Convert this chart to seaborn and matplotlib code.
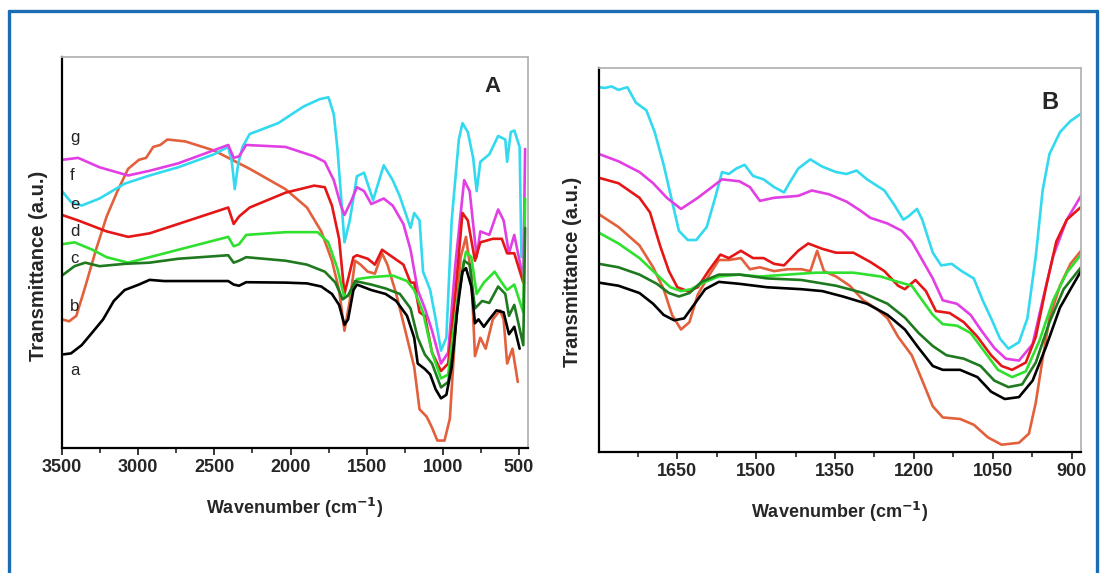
import numpy as np
import pandas as pd
import matplotlib
matplotlib.use("Agg")
import matplotlib.pyplot as plt
from matplotlib.lines import Line2D
from matplotlib.ticker import MultipleLocator
import seaborn as sns

# ---------------- Panel A data (wavenumber, transmittance a.u.) ----------------
A_wn_a = [3500, 3441, 3371, 3300, 3230, 3160, 3089, 2995, 2925, 2831, 2620, 2409, 2373, 2338, 2291, 2033, 1892, 1798, 1728, 1681, 1646, 1622, 1587, 1564, 1470, 1376, 1306, 1235, 1188, 1165, 1118, 1083, 1047, 1012, 977, 942, 907, 871, 848, 813, 789, 766, 731, 695, 648, 601, 566, 531, 496]
A_a = [23.9, 24.2, 26.3, 29.6, 32.9, 37.6, 40.4, 41.8, 43.0, 42.7, 42.7, 42.7, 41.8, 41.5, 42.4, 42.3, 42.1, 41.3, 39.4, 36.6, 31.5, 32.9, 40.4, 41.8, 40.4, 39.4, 37.6, 33.8, 28.2, 21.6, 20.2, 18.8, 15.0, 12.7, 13.6, 20.7, 34.7, 45.1, 46.0, 41.3, 31.9, 32.9, 31.0, 32.9, 35.2, 34.7, 29.1, 31.0, 25.4]

A_wn_b = [3500, 3453, 3406, 3347, 3277, 3207, 3136, 3066, 2995, 2948, 2901, 2855, 2808, 2690, 2503, 2268, 2033, 1892, 1798, 1728, 1681, 1646, 1611, 1576, 1540, 1493, 1446, 1399, 1364, 1306, 1235, 1188, 1153, 1106, 1071, 1036, 989, 954, 918, 883, 848, 813, 789, 754, 719, 672, 625, 601, 578, 543, 508]
A_b = [32.9, 32.4, 33.8, 41.3, 50.7, 59.2, 65.7, 71.4, 73.7, 74.2, 77.0, 77.5, 78.9, 78.4, 76.1, 71.4, 66.2, 61.5, 55.4, 47.9, 40.4, 30.0, 37.6, 47.9, 46.9, 45.1, 44.6, 49.8, 46.9, 39.4, 28.2, 20.7, 9.9, 8.0, 5.2, 1.9, 1.9, 7.5, 30.0, 48.8, 54.0, 44.1, 23.5, 28.2, 25.4, 32.9, 35.2, 32.9, 21.6, 25.4, 16.9]

A_wn_c = [3500, 3418, 3347, 3254, 3089, 2925, 2737, 2409, 2373, 2338, 2291, 2033, 1892, 1775, 1705, 1658, 1622, 1576, 1470, 1376, 1282, 1212, 1165, 1118, 1071, 1012, 965, 930, 895, 860, 824, 789, 742, 695, 637, 590, 566, 531, 472, 460]
A_c = [44.1, 46.5, 47.4, 46.5, 47.1, 47.4, 48.4, 49.3, 47.4, 47.9, 48.8, 47.9, 46.9, 45.1, 42.3, 38.0, 39.0, 42.7, 41.8, 40.8, 39.4, 35.7, 28.2, 23.9, 21.6, 15.5, 16.9, 25.4, 39.4, 47.9, 46.9, 35.7, 37.6, 37.1, 41.3, 39.4, 33.8, 36.6, 26.3, 56.3]

A_wn_d = [3500, 3418, 3300, 3207, 3066, 2925, 2737, 2409, 2373, 2338, 2291, 2033, 1822, 1752, 1693, 1646, 1611, 1564, 1470, 1329, 1235, 1188, 1130, 1071, 1012, 965, 930, 883, 848, 813, 778, 731, 660, 613, 578, 531, 472, 460]
A_d = [52.1, 52.6, 50.7, 48.8, 47.4, 48.8, 50.7, 54.0, 51.6, 52.1, 54.5, 55.2, 55.2, 52.6, 46.0, 38.5, 39.4, 43.2, 43.7, 44.1, 42.7, 40.4, 34.7, 24.4, 17.8, 18.8, 30.0, 43.2, 50.2, 48.8, 39.4, 42.3, 45.1, 42.3, 40.4, 41.8, 34.7, 63.8]

A_wn_e = [3500, 3394, 3207, 3066, 2925, 2737, 2409, 2373, 2338, 2268, 2033, 1845, 1775, 1728, 1681, 1646, 1587, 1564, 1493, 1446, 1399, 1329, 1259, 1212, 1188, 1153, 1118, 1071, 1012, 965, 918, 871, 836, 789, 754, 672, 613, 578, 531, 472]
A_e = [59.6, 58.2, 55.4, 54.0, 54.9, 57.3, 61.5, 57.3, 59.2, 61.5, 65.3, 67.1, 66.7, 62.0, 53.5, 39.4, 48.8, 49.3, 48.4, 46.9, 50.7, 48.8, 46.9, 42.3, 42.3, 34.7, 33.8, 24.4, 19.7, 21.6, 39.4, 60.1, 58.2, 47.9, 52.6, 53.5, 53.5, 49.8, 49.8, 42.3]

A_wn_f = [3500, 3394, 3254, 3066, 2925, 2737, 2409, 2373, 2338, 2291, 2033, 1845, 1775, 1716, 1669, 1646, 1599, 1564, 1517, 1470, 1388, 1329, 1259, 1212, 1165, 1118, 1071, 1012, 965, 918, 860, 824, 778, 754, 695, 637, 601, 566, 531, 472, 460]
A_f = [73.7, 74.2, 71.8, 69.7, 70.9, 72.8, 77.5, 74.2, 74.6, 77.5, 77.0, 74.6, 73.2, 68.5, 62.0, 59.6, 63.4, 66.7, 65.7, 62.4, 63.8, 62.0, 57.3, 50.7, 40.4, 35.7, 30.0, 21.6, 24.4, 46.9, 68.5, 65.7, 48.8, 55.4, 54.5, 61.0, 58.2, 49.8, 54.5, 43.2, 76.5]

A_wn_g = [3500, 3441, 3371, 3254, 3089, 2925, 2737, 2503, 2409, 2385, 2366, 2343, 2315, 2268, 2080, 1916, 1810, 1751, 1716, 1693, 1669, 1646, 1611, 1564, 1517, 1458, 1388, 1329, 1282, 1212, 1188, 1153, 1130, 1083, 1047, 1012, 977, 942, 895, 871, 836, 801, 778, 754, 695, 637, 590, 578, 554, 531, 496, 484]
A_g = [65.7, 62.9, 62.0, 63.8, 67.6, 69.7, 71.8, 75.1, 77.0, 73.2, 66.2, 72.8, 77.0, 80.3, 83.1, 87.3, 89.2, 89.7, 85.4, 77.0, 64.8, 52.6, 58.2, 69.5, 70.4, 63.4, 72.3, 68.5, 64.3, 56.3, 60.1, 58.2, 45.1, 40.4, 32.9, 24.9, 28.2, 58.2, 78.9, 83.1, 80.8, 74.2, 65.7, 73.2, 75.1, 79.8, 78.9, 73.2, 80.8, 81.2, 77.0, 48.8]

# ---------------- Panel B data ----------------
B_wn_a = [1799, 1762, 1722, 1696, 1676, 1656, 1637, 1617, 1597, 1571, 1532, 1479, 1414, 1374, 1335, 1289, 1250, 1217, 1191, 1164, 1145, 1112, 1079, 1053, 1027, 1000, 974, 948, 922, 902, 882]
B_a = [44.1, 43.3, 41.4, 38.6, 35.7, 34.3, 34.8, 38.6, 42.4, 44.3, 43.8, 42.9, 42.4, 41.9, 40.5, 38.6, 35.7, 31.9, 27.1, 22.4, 21.4, 21.4, 19.5, 15.7, 13.8, 14.3, 18.6, 27.6, 37.6, 42.4, 47.1]

B_wn_b = [1799, 1762, 1722, 1696, 1676, 1660, 1643, 1627, 1611, 1591, 1571, 1552, 1529, 1512, 1493, 1466, 1440, 1414, 1397, 1384, 1371, 1348, 1322, 1296, 1269, 1250, 1230, 1204, 1184, 1164, 1145, 1112, 1086, 1059, 1033, 1000, 981, 968, 955, 942, 922, 902, 882]
B_b = [61.9, 58.6, 53.8, 48.1, 42.4, 35.7, 31.9, 33.8, 41.0, 45.7, 50.0, 50.0, 50.5, 47.6, 48.1, 47.1, 47.6, 47.6, 47.1, 52.4, 47.1, 45.7, 43.3, 39.5, 37.1, 34.8, 30.0, 25.2, 18.6, 11.9, 9.0, 8.6, 7.1, 3.8, 1.9, 2.4, 4.8, 12.9, 24.3, 34.8, 43.3, 49.0, 52.4]

B_wn_c = [1799, 1762, 1722, 1689, 1666, 1647, 1627, 1604, 1571, 1532, 1479, 1414, 1348, 1296, 1250, 1217, 1191, 1164, 1138, 1105, 1073, 1047, 1020, 994, 968, 942, 915, 882]
B_c = [49.0, 48.1, 46.2, 43.8, 41.4, 40.5, 41.4, 44.3, 46.2, 46.2, 45.2, 44.8, 43.3, 41.4, 38.6, 35.0, 31.0, 27.6, 25.2, 24.3, 22.4, 18.6, 16.9, 17.6, 23.3, 33.8, 42.4, 48.1]

B_wn_d = [1799, 1762, 1722, 1689, 1663, 1643, 1624, 1597, 1571, 1532, 1493, 1440, 1387, 1315, 1263, 1230, 1204, 1184, 1164, 1145, 1118, 1092, 1066, 1040, 1013, 987, 961, 935, 909, 882]
B_d = [57.1, 54.3, 50.5, 46.2, 42.9, 41.9, 42.4, 44.3, 45.7, 46.2, 45.7, 46.2, 46.7, 46.7, 45.7, 44.3, 43.3, 39.5, 35.7, 33.3, 32.9, 31.0, 26.2, 21.4, 19.5, 21.0, 29.0, 39.5, 46.7, 51.4]

B_wn_e = [1799, 1762, 1722, 1702, 1683, 1666, 1650, 1630, 1611, 1591, 1568, 1552, 1529, 1506, 1486, 1466, 1447, 1420, 1401, 1374, 1348, 1315, 1283, 1256, 1230, 1217, 1197, 1177, 1158, 1132, 1105, 1079, 1053, 1033, 1013, 987, 968, 948, 929, 909, 882]
B_e = [71.4, 70.0, 66.2, 62.4, 53.8, 47.1, 42.9, 41.9, 42.9, 47.1, 51.4, 50.5, 52.4, 50.5, 50.5, 49.0, 48.6, 52.4, 54.3, 52.9, 51.9, 51.9, 49.5, 47.1, 43.3, 42.4, 44.8, 41.9, 36.7, 36.2, 33.8, 30.0, 25.2, 22.4, 21.4, 23.3, 30.0, 43.3, 54.8, 60.5, 63.8]

B_wn_f = [1799, 1762, 1722, 1696, 1670, 1643, 1611, 1584, 1565, 1532, 1512, 1493, 1466, 1420, 1394, 1361, 1328, 1302, 1283, 1250, 1223, 1204, 1184, 1164, 1145, 1118, 1092, 1073, 1047, 1025, 1000, 974, 955, 935, 909, 882]
B_f = [77.6, 75.7, 72.9, 70.0, 66.2, 63.3, 66.2, 69.0, 71.0, 70.5, 69.0, 65.4, 66.2, 66.7, 68.1, 67.1, 65.2, 62.9, 61.0, 59.5, 57.6, 54.8, 50.0, 45.2, 39.5, 38.6, 35.7, 31.9, 27.1, 24.3, 23.8, 28.1, 39.5, 51.0, 60.5, 66.7]

B_wn_g = [1799, 1788, 1775, 1762, 1745, 1729, 1709, 1693, 1676, 1663, 1647, 1630, 1614, 1594, 1578, 1565, 1552, 1538, 1522, 1506, 1486, 1466, 1447, 1437, 1420, 1397, 1374, 1348, 1328, 1309, 1289, 1256, 1237, 1220, 1210, 1194, 1184, 1164, 1148, 1128, 1109, 1086, 1069, 1053, 1036, 1020, 1000, 984, 968, 955, 942, 922, 902, 882]
B_g = [95.0, 94.8, 95.2, 94.3, 95.0, 91.0, 89.0, 83.3, 74.8, 67.1, 57.6, 55.2, 55.2, 58.6, 66.2, 72.9, 72.4, 73.8, 74.8, 71.9, 71.0, 69.0, 67.6, 70.0, 73.8, 76.2, 74.3, 72.9, 72.4, 73.3, 71.0, 68.1, 64.3, 60.5, 61.4, 63.3, 60.5, 51.9, 48.6, 49.0, 47.1, 45.2, 39.5, 34.8, 29.5, 26.9, 28.6, 34.8, 51.0, 68.1, 77.6, 83.3, 86.2, 88.1]

series_keys = ["a", "b", "c", "d", "e", "f", "g"]
series_colors = {"a": "#000000", "b": "#e2603c", "c": "#1f7a1f", "d": "#2fe02f",
                 "e": "#e51616", "f": "#e13fe3", "g": "#33d9ef"}
draw_order = ["b", "g", "f", "e", "d", "c", "a"]

A_data = {"a": (A_wn_a, A_a), "b": (A_wn_b, A_b), "c": (A_wn_c, A_c), "d": (A_wn_d, A_d),
          "e": (A_wn_e, A_e), "f": (A_wn_f, A_f), "g": (A_wn_g, A_g)}
B_data = {"a": (B_wn_a, B_a), "b": (B_wn_b, B_b), "c": (B_wn_c, B_c), "d": (B_wn_d, B_d),
          "e": (B_wn_e, B_e), "f": (B_wn_f, B_f), "g": (B_wn_g, B_g)}

# curve labels for panel A
label_letters = ["g", "f", "e", "d", "c", "b", "a"]
label_y = [79.3, 69.7, 62.4, 55.4, 48.4, 36.2, 19.7]
A_ticks = [3500, 3000, 2500, 2000, 1500, 1000, 500]
B_ticks = [1650, 1500, 1350, 1200, 1050, 900]

sns.set_theme(style="ticks")
plt.rcParams["font.family"] = ["Liberation Sans", "DejaVu Sans"]

fig = plt.figure(figsize=(11, 5.73), dpi=100)
fig.patch.set_facecolor("white")
axA = fig.add_axes([62/1100, 125/573, 466/1100, 391/573])
axB = fig.add_axes([599/1100, 121/573, 482/1100, 384/573])


def frame(ax):
    ax.set_facecolor("white")
    for side in ["left", "bottom"]:
        ax.spines[side].set_color("black")
        ax.spines[side].set_linewidth(1.6)
    for side in ["top", "right"]:
        ax.spines[side].set_color("#b5b5b5")
        ax.spines[side].set_linewidth(1.3)
    ax.tick_params(axis="y", left=False, labelleft=False)
    ax.tick_params(axis="x", which="major", direction="out", length=5, width=1.3,
                   labelsize=13, pad=3, top=False)
    ax.tick_params(axis="x", which="minor", direction="out", length=3.5, width=1.2, top=False)
    ax.set_xlabel("Wavenumber (cm$^{\\mathbf{-1}}$)", fontsize=13, fontweight="bold", labelpad=14)
    ax.set_ylabel("Transmittance (a.u.)", fontsize=14.5, fontweight="bold")


for k in draw_order:
    x, y = A_data[k]
    sns.lineplot(x=x, y=y, ax=axA, color=series_colors[k], lw=1.9, sort=False, estimator=None)
    x, y = B_data[k]
    sns.lineplot(x=x, y=y, ax=axB, color=series_colors[k], lw=1.9, sort=False, estimator=None)

axA.set_xlim(3500, 441)
axA.set_ylim(0, 100)
axA.set_xticks(A_ticks)
axA.xaxis.set_minor_locator(MultipleLocator(250))
axB.set_xlim(1799, 882)
axB.set_ylim(0, 100)
axB.set_xticks(B_ticks)
axB.xaxis.set_minor_locator(MultipleLocator(75))
frame(axA)
frame(axB)
axA.set_xticklabels([str(t) for t in A_ticks], fontweight="bold")
axB.set_xticklabels([str(t) for t in B_ticks], fontweight="bold")
axA.yaxis.set_label_coords(-0.030, 0.465)
axB.yaxis.set_label_coords(-0.035, 0.469)

for lt, ly in zip(label_letters, label_y):
    axA.text(3448, ly, lt, fontsize=12, color="#222222", ha="left", va="center")

axA.text(677, 92.5, "A", fontsize=16, fontweight="bold", ha="center", va="center")
axB.text(941, 91, "B", fontsize=17, fontweight="bold", ha="center", va="center")

# blue border frame
blue = "#1b6db3"
fig.add_artist(Line2D([9/1100, 9/1100], [0, 1 - 11/573], color=blue, lw=2.4, transform=fig.transFigure))
fig.add_artist(Line2D([9/1100, 1097/1100], [1 - 11/573, 1 - 11/573], color=blue, lw=2.4, transform=fig.transFigure))
fig.add_artist(Line2D([1097/1100, 1097/1100], [0, 1 - 11/573], color=blue, lw=2.4, transform=fig.transFigure))

fig.savefig("out.png", dpi=100, facecolor="white")
